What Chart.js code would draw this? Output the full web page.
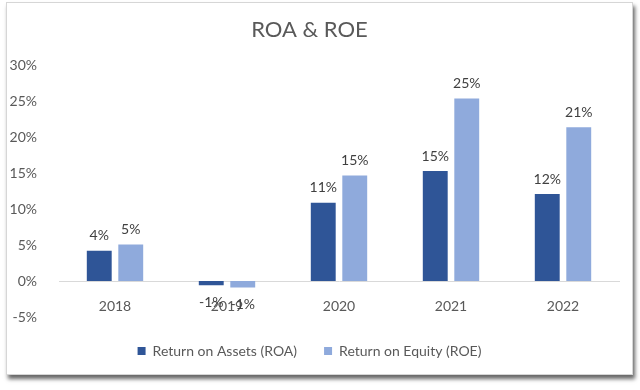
<!DOCTYPE html>
<html>
<head>
<meta charset="utf-8">
<script src="https://cdn.jsdelivr.net/npm/chart.js@4"></script>
<style>
  body { margin: 0; background: #fff; }
  .card {
    position: absolute; left: 6px; top: 2px; width: 625px; height: 371px;
    border: 1px solid #d6d6d6; background: #fff;
    box-shadow: 2px 4px 4px rgba(0,0,0,0.6);
  }
  #wrap { position: absolute; left: 0; top: 0; width: 640px; height: 390px; }
</style>
</head>
<body>
<div class="card"></div>
<div id="wrap"><canvas id="roaChart" width="640" height="390"></canvas></div>
<script>
// data
const years = ["2018", "2019", "2020", "2021", "2022"];
const roa = [4.2, -0.6, 10.9, 15.3, 12.1];
const roe = [5.1, -0.9, 14.7, 25.4, 21.4];
const yTicks = [-5, 0, 5, 10, 15, 20, 25, 30];

const textColor = "#595959";
const fontName = "Lato";

// draw the % labels on each bar (no datalabels plugin offline)
const barLabels = {
  id: "barLabels",
  afterDatasetsDraw(chart) {
    const ctx = chart.ctx;
    ctx.save();
    ctx.font = "14px " + fontName;
    ctx.fillStyle = "#404040";
    ctx.textAlign = "center";
    ctx.textBaseline = "middle";
    chart.data.datasets.forEach((ds, i) => {
      chart.getDatasetMeta(i).data.forEach((bar, j) => {
        let v = ds.data[j];
        let txt = Math.round(v) + "%";
        let y = v >= 0 ? bar.y - 15 : bar.y + 17;
        ctx.fillText(txt, bar.x, y);
      });
    });
    ctx.restore();
  }
};

new Chart(document.getElementById("roaChart"), {
  type: "bar",
  data: {
    labels: years,
    datasets: [
      { label: "Return on Assets (ROA)", data: roa, backgroundColor: "#2F5597",
        categoryPercentage: 0.5625, barPercentage: 0.79 },
      { label: "Return on Equity (ROE)", data: roe, backgroundColor: "#8FAADC",
        categoryPercentage: 0.5625, barPercentage: 0.79 },
    ],
  },
  options: {
    responsive: false,
    animation: false,
    layout: { padding: { left: 0, right: 21, top: 0, bottom: 22 } },
    plugins: {
      title: {
        display: true,
        text: "ROA & ROE",
        color: textColor,
        font: { family: fontName, size: 22, weight: "normal" },
        padding: { top: 17, bottom: 22 },
      },
      legend: {
        position: "bottom",
        labels: {
          color: textColor,
          font: { family: fontName, size: 14 },
          boxWidth: 8,
          boxHeight: 8,
          padding: 27,
        },
      },
      tooltip: { enabled: false },
    },
    scales: {
      x: {
        position: { y: 0 },
        grid: { display: false },
        border: { display: true, color: "#d9d9d9", width: 1 },
        ticks: { color: textColor, font: { family: fontName, size: 14 }, padding: 9 },
      },
      y: {
        min: -5,
        max: 30,
        afterFit: (s) => { s.width = 59; },
        afterBuildTicks: (s) => { s.ticks = yTicks.map((v) => ({ value: v })); },
        grid: { display: false },
        border: { display: false },
        ticks: {
          color: textColor,
          font: { family: fontName, size: 14 },
          padding: 14,
          callback: (v) => v + "%",
        },
      },
    },
  },
  plugins: [barLabels],
});
</script>
</body>
</html>
